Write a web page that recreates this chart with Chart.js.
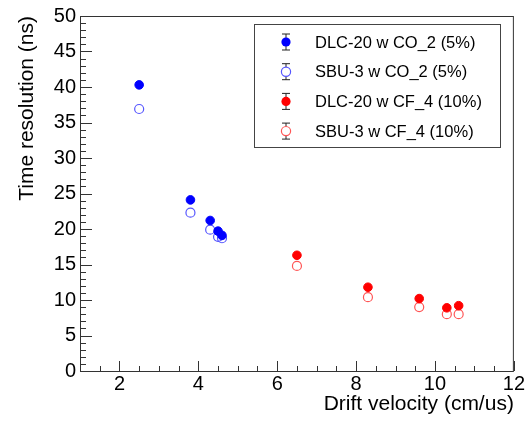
<!DOCTYPE html>
<html>
<head>
<meta charset="utf-8">
<script src="https://cdn.jsdelivr.net/npm/chart.js@4"></script>
<style>
  html, body { margin: 0; padding: 0; background: #fff; }
  #wrap { width: 526px; height: 422px; }
</style>
</head>
<body>
<div id="wrap"><canvas id="myChart" width="526" height="422"></canvas></div>
<script>
// values
var co2X = [2.5, 3.8, 4.3, 4.5, 4.6];
var co2DLC = [40.3, 24.1, 21.2, 19.7, 19.1];
var co2SBU = [36.9, 22.3, 19.9, 18.9, 18.7];

var cf4X = [6.5, 8.3, 9.6, 10.3, 10.6];
var cf4DLC = [16.3, 11.8, 10.2, 8.9, 9.2];
var cf4SBU = [14.8, 10.4, 9.0, 8.0, 8.0];

var xTicks = [2, 4, 6, 8, 10, 12];
var yTicks = [0, 5, 10, 15, 20, 25, 30, 35, 40, 45, 50];

var labels = ['DLC-20 w CO_2 (5%)', 'SBU-3 w CO_2 (5%)', 'DLC-20 w CF_4 (10%)', 'SBU-3 w CF_4 (10%)'];

function pts(xs, ys) {
  return xs.map(function (x, i) { return {x: x, y: ys[i]}; });
}

var FONT = '"Liberation Sans", Arial, Helvetica, sans-serif';

// ROOT-like frame with inward major/minor ticks
var frameTicks = {
  id: 'frameTicks',
  beforeDatasetsDraw: function (chart) {
    var c = chart.ctx, a = chart.chartArea;
    var xs = chart.scales.x, ys = chart.scales.y;
    c.save();
    c.strokeStyle = '#333';
    c.lineWidth = 1;
    c.strokeRect(a.left + 0.5, a.top + 0.5, a.right - a.left - 1, a.bottom - a.top);
    c.beginPath();
    for (var v = 1; v <= 12.001; v += 0.5) {
      var px = Math.round(xs.getPixelForValue(v)) + 0.5;
      var len = (Math.abs(v % 2) < 0.01) ? 10 : 5;
      c.moveTo(px, a.bottom);
      c.lineTo(px, a.bottom - len);
    }
    for (var w = 0; w <= 50; w += 1) {
      var py = Math.round(ys.getPixelForValue(w)) + 0.5;
      var l2 = (w % 5 === 0) ? 12 : 6;
      c.moveTo(a.left, py);
      c.lineTo(a.left + l2, py);
    }
    c.stroke();
    c.restore();
  }
};

// legend box in the upper right, with error-bar markers
var rootLegend = {
  id: 'rootLegend',
  afterDraw: function (chart) {
    var c = chart.ctx;
    var bx = 254, by = 24, bw = 246, bh = 123;
    c.save();
    c.fillStyle = '#fff';
    c.fillRect(bx, by, bw, bh);
    c.strokeStyle = '#444';
    c.lineWidth = 1;
    c.strokeRect(bx + 0.5, by + 0.5, bw, bh);
    chart.data.datasets.forEach(function (ds, i) {
      var cy = 42 + i * 29.7;
      var mx = 286;
      c.strokeStyle = '#222';
      c.lineWidth = 1;
      c.beginPath();
      c.moveTo(mx, cy - 8); c.lineTo(mx, cy + 8);
      c.moveTo(mx - 4, cy - 8); c.lineTo(mx + 4, cy - 8);
      c.moveTo(mx - 4, cy + 8); c.lineTo(mx + 4, cy + 8);
      c.stroke();
      c.beginPath();
      c.arc(mx, cy, 4.6, 0, Math.PI * 2);
      if (ds.hollow) {
        c.fillStyle = '#fff';
        c.fill();
        c.strokeStyle = ds.borderColor;
        c.lineWidth = 1.2;
        c.stroke();
      } else {
        c.fillStyle = ds.backgroundColor;
        c.fill();
      }
      c.fillStyle = '#000';
      c.font = '16.5px ' + FONT;
      c.textBaseline = 'middle';
      c.textAlign = 'left';
      c.fillText(ds.label, 315, cy + 1);
    });
    c.restore();
  }
};

var ctx = document.getElementById('myChart').getContext('2d');
var myChart = new Chart(ctx, {
  type: 'scatter',
  data: {
    datasets: [{
      data: pts(co2X, co2DLC),
      label: labels[0],
      backgroundColor: '#0000ff',
      borderColor: '#0000ff',
      borderWidth: 1,
      pointRadius: 4.3,
      order: 0
    }, {
      data: pts(co2X, co2SBU),
      label: labels[1],
      hollow: true,
      backgroundColor: 'rgba(0,0,0,0)',
      borderColor: '#5555ff',
      borderWidth: 1.2,
      pointRadius: 4.5,
      order: 1
    }, {
      data: pts(cf4X, cf4DLC),
      label: labels[2],
      backgroundColor: '#ff0000',
      borderColor: '#ff0000',
      borderWidth: 1,
      pointRadius: 4.3,
      order: 0
    }, {
      data: pts(cf4X, cf4SBU),
      label: labels[3],
      hollow: true,
      backgroundColor: 'rgba(0,0,0,0)',
      borderColor: '#ff5555',
      borderWidth: 1.2,
      pointRadius: 4.5,
      order: 1
    }]
  },
  options: {
    responsive: false,
    animation: false,
    layout: { padding: { left: 0, top: 16, right: 11, bottom: 0 } },
    plugins: {
      legend: { display: false },
      tooltip: { enabled: false }
    },
    scales: {
      x: {
        type: 'linear',
        min: 1,
        max: 12,
        afterFit: function (s) { s.height = 51; },
        afterBuildTicks: function (s) { s.ticks = xTicks.map(function (v) { return {value: v}; }); },
        grid: { display: false, drawTicks: false },
        border: { display: false },
        ticks: { color: '#000', padding: 1, maxRotation: 0, font: { family: FONT, size: 20 } },
        title: {
          display: true,
          text: 'Drift velocity (cm/us)',
          align: 'end',
          color: '#000',
          padding: { top: 0, bottom: 5 },
          font: { family: FONT, size: 21 }
        }
      },
      y: {
        type: 'linear',
        min: 0,
        max: 50,
        afterFit: function (s) { s.width = 80; },
        afterBuildTicks: function (s) { s.ticks = yTicks.map(function (v) { return {value: v}; }); },
        grid: { display: false, drawTicks: false },
        border: { display: false },
        ticks: { color: '#000', padding: 4, font: { family: FONT, size: 20 } },
        title: {
          display: true,
          text: 'Time resolution (ns)',
          align: 'end',
          color: '#000',
          padding: { top: 15, bottom: 0 },
          font: { family: FONT, size: 21 }
        }
      }
    }
  },
  plugins: [frameTicks, rootLegend]
});
</script>
</body>
</html>
